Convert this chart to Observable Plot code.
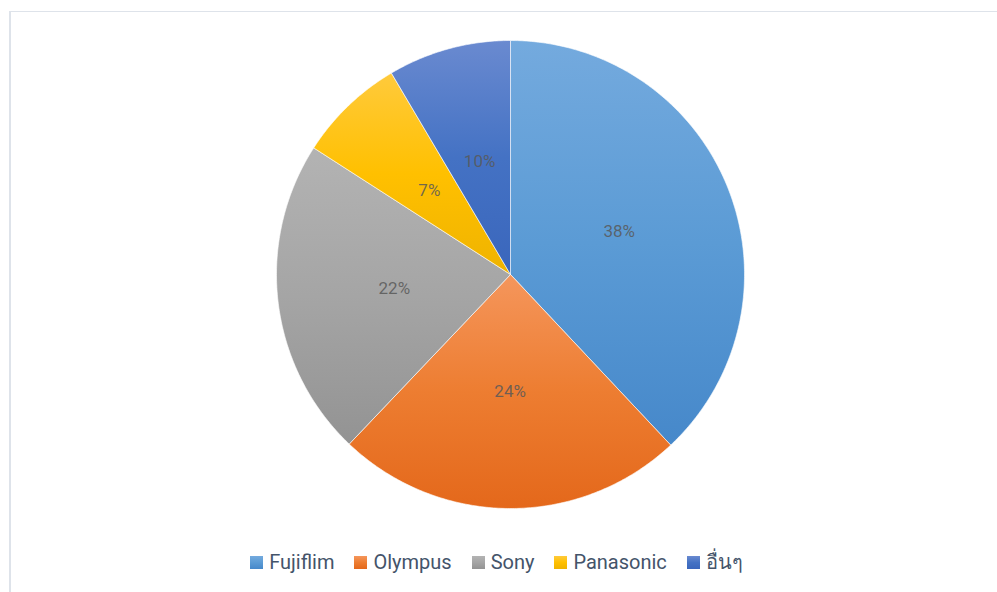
<!DOCTYPE html>
<html>
<head>
<meta charset="utf-8">
<script src="https://cdn.jsdelivr.net/npm/d3@7"></script>
<script src="https://cdn.jsdelivr.net/npm/@observablehq/plot@0.6"></script>
<style>
  html, body { margin: 0; padding: 0; background: #fff; }
  #wrap { position: relative; width: 997px; height: 592px; overflow: hidden; }
  #frame { position: absolute; left: 9px; top: 11px; width: 1000px; height: 600px;
           border-left: 2px solid #dee3ea; border-top: 1px solid #dee3ea; box-sizing: border-box; }
  #chart { position: absolute; left: 0; top: 0; }
  #legend { position: absolute; left: 0; top: 546px; width: 993px; display: flex; justify-content: center;
            gap: 20px; font-family: Roboto, "Noto Sans", "DejaVu Sans", sans-serif; font-size: 20px; color: #44546a; }
  .item { display: flex; align-items: center; gap: 6px; }
  .sw { width: 13px; height: 13px; }
</style>
</head>
<body>
<div id="wrap">
  <div id="frame"></div>
  <div id="chart"></div>
  <div id="legend"></div>
</div>
<script>
// Data (slice shares in %, clockwise from 12 o'clock)
const brands = ["Fujiflim", "Olympus", "Sony", "Panasonic", "อื่นๆ"];
const shares = [38.0, 24.1, 22.0, 7.4, 8.5];
const labels = ["38%", "24%", "22%", "7%", "10%"];
const topColors = ["#74aade", "#f5965c", "#b3b3b3", "#ffca3c", "#6a8ad0"];
const baseColors = ["#5b9bd5", "#ed7d31", "#a5a5a5", "#ffc000", "#4472c4"];
const bottomColors = ["#4688ca", "#e4681b", "#939393", "#efb300", "#3a66bc"];

const pie = d3.pie().sort(null).value(d => d.share)
  .startAngle(0).endAngle(2 * Math.PI);
const rows = brands.map((b, i) => ({brand: b, share: shares[i], label: labels[i], i}));
const arcs = pie(rows);

// Wedge outlines (in unit-circle coordinates, angle measured clockwise from top)
function wedge(a) {
  const pts = [{x: 0, y: 0}];
  const n = Math.max(2, Math.ceil((a.endAngle - a.startAngle) / 0.01));
  for (let k = 0; k <= n; k++) {
    const t = a.startAngle + (a.endAngle - a.startAngle) * k / n;
    pts.push({x: Math.sin(t), y: Math.cos(t)});
  }
  pts.push({x: 0, y: 0});
  return pts;
}
const labelPts = arcs.map(a => {
  const m = (a.startAngle + a.endAngle) / 2;
  return {x: 0.5 * Math.sin(m), y: 0.5 * Math.cos(m), label: a.data.label};
});

const defsMark = () => {
  const ns = "http://www.w3.org/2000/svg";
  const defs = document.createElementNS(ns, "defs");
  brands.forEach((b, i) => {
    const g = document.createElementNS(ns, "linearGradient");
    g.setAttribute("id", "g" + i);
    g.setAttribute("x1", "0"); g.setAttribute("y1", "0");
    g.setAttribute("x2", "0"); g.setAttribute("y2", "1");
    [[0, topColors[i]], [0.5, baseColors[i]], [1, bottomColors[i]]].forEach(([o, c]) => {
      const s = document.createElementNS(ns, "stop");
      s.setAttribute("offset", o);
      s.setAttribute("stop-color", c);
      g.appendChild(s);
    });
    defs.appendChild(g);
  });
  return defs;
};

const W = 997, H = 532, R = 234, CX = 510, CY = 274;
const plot = Plot.plot({
  width: W,
  height: H,
  marginLeft: CX - R,
  marginRight: W - (CX + R),
  marginTop: CY - R,
  marginBottom: H - (CY + R),
  x: {domain: [-1, 1], axis: null},
  y: {domain: [-1, 1], axis: null},
  style: {background: "transparent", overflow: "visible"},
  marks: [
    defsMark,
    ...arcs.map((a, i) => Plot.line(wedge(a), {
      x: "x", y: "y", fill: `url(#g${i})`, stroke: "white", strokeWidth: 0.6,
      strokeLinejoin: "round", curve: "linear"
    })),
    Plot.text(labelPts, {
      x: "x", y: "y", text: "label", fill: "#595959", fillOpacity: 0.85,
      fontSize: 17, fontFamily: "Roboto, 'Liberation Sans', sans-serif"
    })
  ]
});
document.getElementById("chart").appendChild(plot);

const legend = document.getElementById("legend");
brands.forEach((b, i) => {
  const item = document.createElement("div");
  item.className = "item";
  const sw = document.createElement("div");
  sw.className = "sw";
  sw.style.background = `linear-gradient(to bottom, ${topColors[i]}, ${baseColors[i]}, ${bottomColors[i]})`;
  const t = document.createElement("span");
  t.textContent = b;
  item.appendChild(sw);
  item.appendChild(t);
  legend.appendChild(item);
});
</script>
</body>
</html>
